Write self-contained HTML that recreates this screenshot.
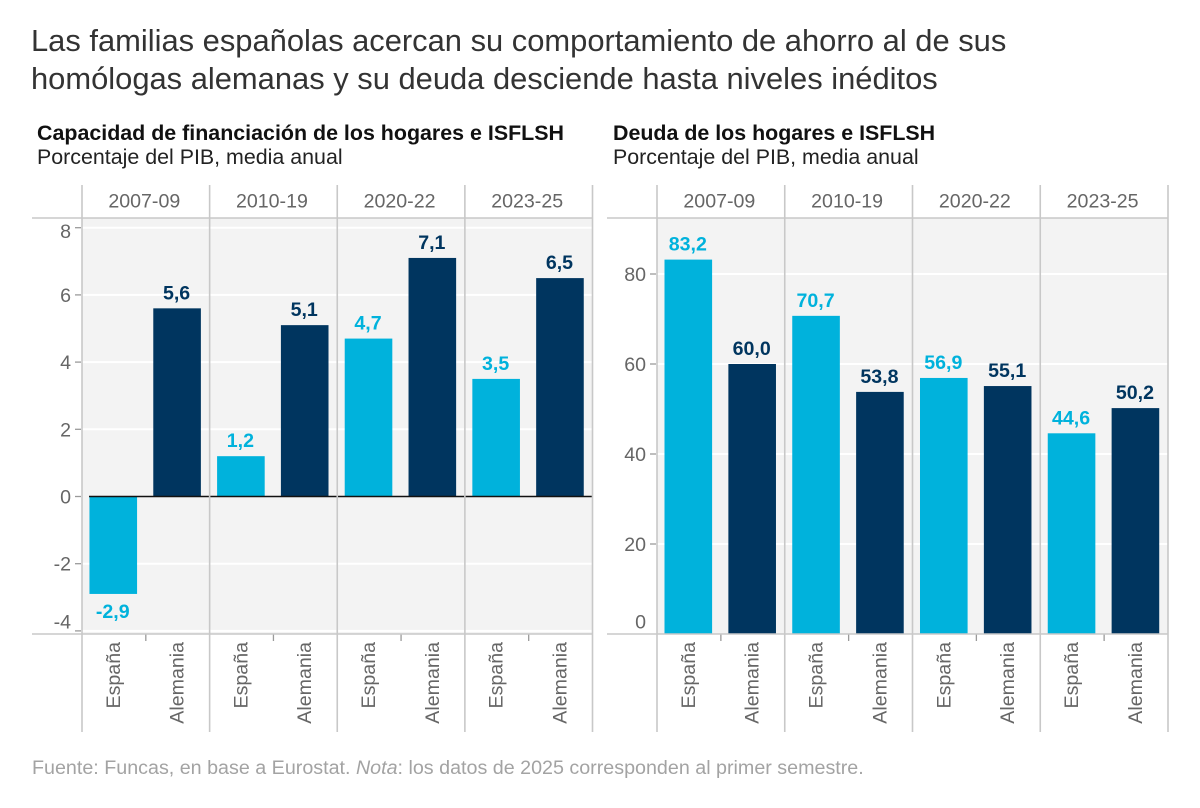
<!DOCTYPE html>
<html lang="es">
<head>
<meta charset="utf-8">
<title>Ahorro y deuda de los hogares</title>
<style>
html,body{margin:0;padding:0;background:#fff;}
body{width:1200px;height:808px;overflow:hidden;}
svg{display:block;font-family:"Liberation Sans",Arial,sans-serif;}
</style>
</head>
<body>
<svg id="chart" xmlns="http://www.w3.org/2000/svg" width="1200" height="808" viewBox="0 0 1200 808">
  <rect x="0" y="0" width="1200" height="808" fill="#ffffff"/>
  <text x="31" y="51" font-size="30.9" fill="#333333">Las familias españolas acercan su comportamiento de ahorro al de sus</text>
  <text x="31" y="89" font-size="30.9" fill="#333333">homólogas alemanas y su deuda desciende hasta niveles inéditos</text>
  <text x="37" y="140" font-size="21.4" font-weight="bold" fill="#111111" textLength="527" lengthAdjust="spacingAndGlyphs">Capacidad de financiación de los hogares e ISFLSH</text>
  <text x="37" y="164" font-size="21.4" fill="#222222">Porcentaje del PIB, media anual</text>
  <text x="613" y="140" font-size="21.4" font-weight="bold" fill="#111111">Deuda de los hogares e ISFLSH</text>
  <text x="613" y="164" font-size="21.4" fill="#222222">Porcentaje del PIB, media anual</text>
  <g id="left-panel"></g>
  <g id="right-panel"></g>
  <text x="32" y="774" font-size="19.7" fill="#a3a3a3">Fuente: Funcas, en base a Eurostat. <tspan font-style="italic">Nota</tspan>: los datos de 2025 corresponden al primer semestre.</text>
</svg>
<script>
const periods = ['2007-09', '2010-19', '2020-22', '2023-25'];
const countries = ['España', 'Alemania'];
const savingEspana = [-2.9, 1.2, 4.7, 3.5];
const savingAlemania = [5.6, 5.1, 7.1, 6.5];
const debtEspana = [83.2, 70.7, 56.9, 44.6];
const debtAlemania = [60.0, 53.8, 55.1, 50.2];
const savingTicks = [8, 6, 4, 2, 0, -2, -4];
const debtTicks = [80, 60, 40, 20, 0];

const NS = 'http://www.w3.org/2000/svg';
const TOP = 218, BOTTOM = 634, EXT_TOP = 185, EXT_BOTTOM = 732;
const COLORS = ['#00b2dc', '#00355f'];

function mk(parent, tag, attrs, text) {
  const el = document.createElementNS(NS, tag);
  for (const k in attrs) el.setAttribute(k, attrs[k]);
  if (text !== undefined) el.textContent = text;
  parent.appendChild(el);
  return el;
}
function fmt(v) { return v.toFixed(1).replace('.', ','); }

function drawPanel(root, cfg) {
  const step = (cfg.right - cfg.left) / periods.length;
  const bandX = i => cfg.left + step * i;
  const catX = (i, c) => bandX(i) + step * (c === 0 ? 0.245 : 0.745);
  const y = cfg.y;
  const barW = 47.6;

  const bg = mk(root, 'rect', { x: cfg.left, y: TOP, width: cfg.right - cfg.left, height: BOTTOM - TOP, fill: '#f3f3f3' });
  
  

  cfg.ticks.forEach(t => {
    const ty = y(t);
    if (t !== 0) {
      const grid = mk(root, 'line', { x1: cfg.left, x2: cfg.right, y1: ty, y2: ty, stroke: '#ffffff', 'stroke-width': 2 });
      
      
    }
    if (ty < BOTTOM - 1) {
      const tick = mk(root, 'line', { x1: cfg.left - 7, x2: cfg.left - 1, y1: ty, y2: ty, stroke: '#9a9a9a', 'stroke-width': 1.3 });
      
      
    }
    const ly = Math.max(Math.min(ty, 621.5), 231) + 7;
    const lab = mk(root, 'text', { x: cfg.left - 11, y: ly, 'text-anchor': 'end', 'font-size': 19.6, fill: '#666666' }, String(t));
    
    
  });

  periods.forEach((p, i) => {
    const head = mk(root, 'text', { x: bandX(i) + step / 2 - 1.5, y: 207.5, 'text-anchor': 'middle', 'font-size': 19.6, fill: '#666666' }, p);
    
    

    cfg.series.forEach((vals, c) => {
      const v = vals[i];
      const cx = catX(i, c);
      const y0 = y(0);
      const yv = y(v);
      const bar = mk(root, 'rect', { x: cx - barW / 2, y: Math.min(y0, yv), width: barW, height: Math.abs(yv - y0), fill: COLORS[c] });
      
      

      const vy = v >= 0 ? yv - 9 : yv + 24;
      const val = mk(root, 'text', { x: cx - 0.5, y: vy, 'text-anchor': 'middle', 'font-size': 19.6, 'font-weight': 'bold', fill: COLORS[c] }, fmt(v));
      
      

      const lx = cx + 6.5;
      const cat = mk(root, 'text', { x: 0, y: 0, transform: 'translate(' + lx + ',642) rotate(-90)', 'text-anchor': 'end', 'font-size': 19.6, fill: '#666666' }, countries[c]);
      
      
    });

    const xt = bandX(i) + step / 2;
    const tick = mk(root, 'line', { x1: xt, x2: xt, y1: BOTTOM, y2: BOTTOM + 7, stroke: '#9a9a9a', 'stroke-width': 1.3 });
    
    
  });

  if (cfg.zeroLine) {
    const zero = mk(root, 'line', { x1: cfg.left + 7, x2: cfg.right, y1: y(0), y2: y(0), stroke: '#111111', 'stroke-width': 1.6 });
    
    
  }

  const h1 = mk(root, 'line', { x1: cfg.headerLeft, x2: cfg.right, y1: TOP, y2: TOP, stroke: '#c8c8c8', 'stroke-width': 1.6 });
  
  
  const h2 = mk(root, 'line', { x1: cfg.headerLeft, x2: cfg.right, y1: BOTTOM, y2: BOTTOM, stroke: '#c8c8c8', 'stroke-width': 1.6 });
  
  

  for (let i = 0; i <= periods.length; i++) {
    const div = mk(root, 'line', { x1: bandX(i), x2: bandX(i), y1: EXT_TOP, y2: EXT_BOTTOM, stroke: '#c8c8c8', 'stroke-width': 1.6 });
    
    
  }
}

drawPanel(document.getElementById('left-panel'), {
  left: 82, right: 592.5, headerLeft: 32,
  y: v => 496.5 - v * 33.6,
  ticks: savingTicks,
  series: [savingEspana, savingAlemania],
  zeroLine: true
});
drawPanel(document.getElementById('right-panel'), {
  left: 657, right: 1168, headerLeft: 607,
  y: v => 634 - v * 4.5,
  ticks: debtTicks,
  series: [debtEspana, debtAlemania],
  zeroLine: false
});
</script>
</body>
</html>
